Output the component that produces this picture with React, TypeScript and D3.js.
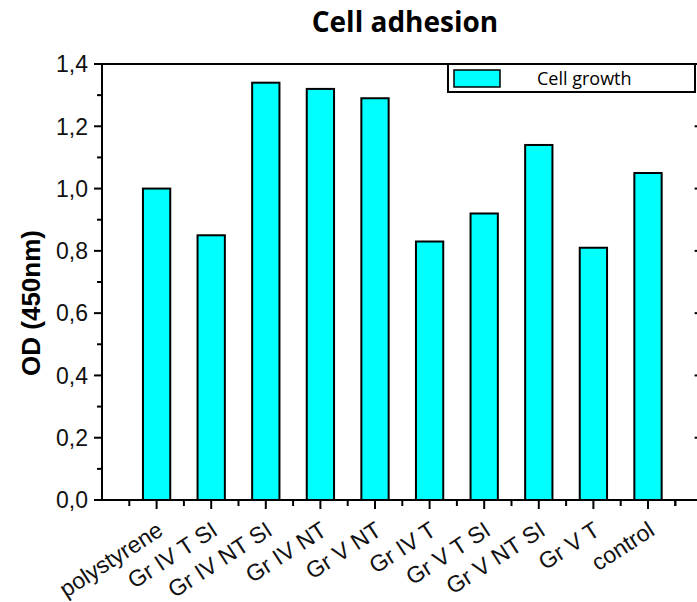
import * as d3 from "d3";

const categories = [
  "polystyrene",
  "Gr IV T SI",
  "Gr IV NT SI",
  "Gr IV NT",
  "Gr V NT",
  "Gr IV T",
  "Gr V T SI",
  "Gr V NT SI",
  "Gr V T",
  "control",
];
const cellGrowth = [1.0, 0.85, 1.34, 1.32, 1.29, 0.83, 0.92, 1.14, 0.81, 1.05];
const yTicks = [0, 0.2, 0.4, 0.6, 0.8, 1.0, 1.2, 1.4];
const yMinor = [0.1, 0.3, 0.5, 0.7, 0.9, 1.1, 1.3];

const W = 697;
const H = 602;

const App = () => {
  const left = 102;
  const right = 702.6;
  const top = 64;
  const bottom = 500;

  // index scale: -1 .. n, bars sit on integer positions
  const x = d3.scaleLinear().domain([-1, categories.length]).range([left, right]);
  const y = d3.scaleLinear().domain([0, 1.4]).range([bottom, top]);
  const step = x(1) - x(0);
  const barW = step * 0.5;
  const fmt = (v: number) => d3.format(".1f")(v).replace(".", ",");

  const majorX = categories.map((_, i) => i);
  const minorX = d3.range(-0.5, categories.length, 1).concat([categories.length - 0.5]);

  return (
    <svg
      width={W}
      height={H}
      style={{ position: "absolute", left: 0, top: 0, background: "#fff" }}
    >
      {/* 제목 */}
      <text
        x={405}
        y={32}
        textAnchor="middle"
        fontFamily="'Open Sans', sans-serif"
        fontWeight="bold"
        fontSize={28}
        fill="#000"
      >
        Cell adhesion
      </text>

      {/* 막대 */}
      {cellGrowth.map((v, i) => (
        <rect
          key={categories[i]}
          x={x(i) - barW / 2}
          y={y(v)}
          width={barW}
          height={y(0) - y(v)}
          fill="#00FFFF"
          stroke="#000"
          strokeWidth={2}
        />
      ))}

      {/* 축 선 */}
      <g stroke="#000" strokeWidth={2} fill="none">
        <line x1={left} x2={left} y1={top - 1} y2={bottom + 1} />
        <line x1={left - 1} x2={right + 1} y1={bottom} y2={bottom} />
        <line x1={left - 1} x2={right + 1} y1={top} y2={top} />
        <line x1={right} x2={right} y1={top} y2={bottom} />
      </g>

      {/* Y 눈금 */}
      <g stroke="#000" strokeWidth={2}>
        {yTicks.map((t) => (
          <line key={"l" + t} x1={left - 8} x2={left} y1={y(t)} y2={y(t)} />
        ))}
        {yMinor.map((t) => (
          <line key={"m" + t} x1={left - 5} x2={left} y1={y(t)} y2={y(t)} />
        ))}
        {yTicks.map((t) => (
          <line key={"r" + t} x1={right - 8} x2={right} y1={y(t)} y2={y(t)} />
        ))}
      </g>
      {yTicks.map((t) => (
        <text
          key={"t" + t}
          x={left - 14}
          y={y(t)}
          dy="0.36em"
          textAnchor="end"
          fontFamily="'Liberation Sans', Arial, sans-serif"
          fontSize={23}
          fill="#111"
        >
          {fmt(t)}
        </text>
      ))}

      {/* X 눈금 */}
      <g stroke="#000" strokeWidth={2}>
        {majorX.map((i) => (
          <line key={"xm" + i} x1={x(i)} x2={x(i)} y1={bottom} y2={bottom + 9} />
        ))}
        {minorX.map((i) => (
          <line key={"xn" + i} x1={x(i)} x2={x(i)} y1={bottom} y2={bottom + 6} />
        ))}
      </g>
      {categories.map((c, i) => (
        <text
          key={"xl" + c}
          transform={`translate(${x(i) + 8}, ${bottom + 34}) rotate(-33)`}
          textAnchor="end"
          fontFamily="'Liberation Sans', Arial, sans-serif"
          fontSize={23}
          fill="#111"
        >
          {c}
        </text>
      ))}

      {/* Y 라벨 */}
      <text
        transform={`translate(40, 303) rotate(-90)`}
        textAnchor="middle"
        fontFamily="'Liberation Sans', Arial, sans-serif"
        fontWeight="bold"
        fontSize={26}
        fill="#000"
      >
        OD (450nm)
      </text>

      {/* 범례 */}
      <rect x={448} y={64} width={247} height={28} fill="#fff" stroke="#000" strokeWidth={2} />
      <rect x={454} y={70} width={46} height={17} fill="#00FFFF" stroke="#000" strokeWidth={1.5} />
      <text
        x={537}
        y={85}
        fontFamily="'Open Sans', sans-serif"
        fontSize={18}
        fill="#000"
      >
        Cell growth
      </text>
    </svg>
  );
};

export default App;
